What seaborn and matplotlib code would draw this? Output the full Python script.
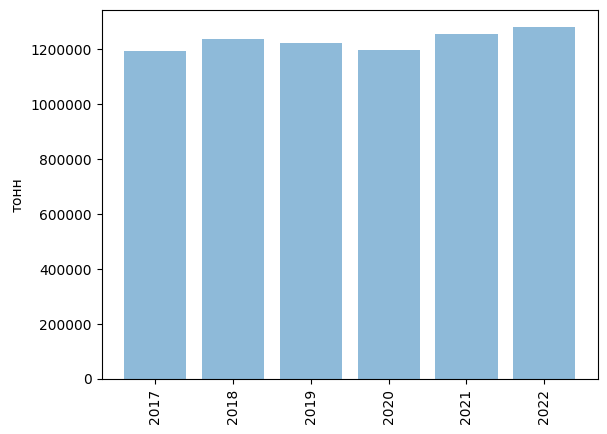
import pandas as pd
import matplotlib
matplotlib.use('Agg')
import matplotlib.pyplot as plt
import seaborn as sns

# Данные по годам (тонн)
years = ['2017', '2018', '2019', '2020', '2021', '2022']
tonnes = [1193800, 1237500, 1222900, 1197500, 1255600, 1281000]

df = pd.DataFrame({'year': years, 'tonnes': tonnes})

fig, ax = plt.subplots(figsize=(6.07, 4.34), dpi=100)
fig.subplots_adjust(left=101.5 / 607, right=598 / 607, top=1 - 9.5 / 434, bottom=1 - 379 / 434)

sns.barplot(data=df, x='year', y='tonnes', color='#1f77b4', alpha=0.5,
            saturation=1, width=0.8, errorbar=None, ax=ax)

# Поля по оси x как у matplotlib по умолчанию
n = len(years)
pad = 0.05 * (n - 1 + 0.8)
ax.set_xlim(-0.4 - pad, n - 1 + 0.4 + pad)

ax.set_xlabel('')
ax.set_ylabel('тонн')
ax.ticklabel_format(style='plain', axis='y')
ax.tick_params(axis='x', rotation=90)

plt.savefig('out.png', dpi=100)
